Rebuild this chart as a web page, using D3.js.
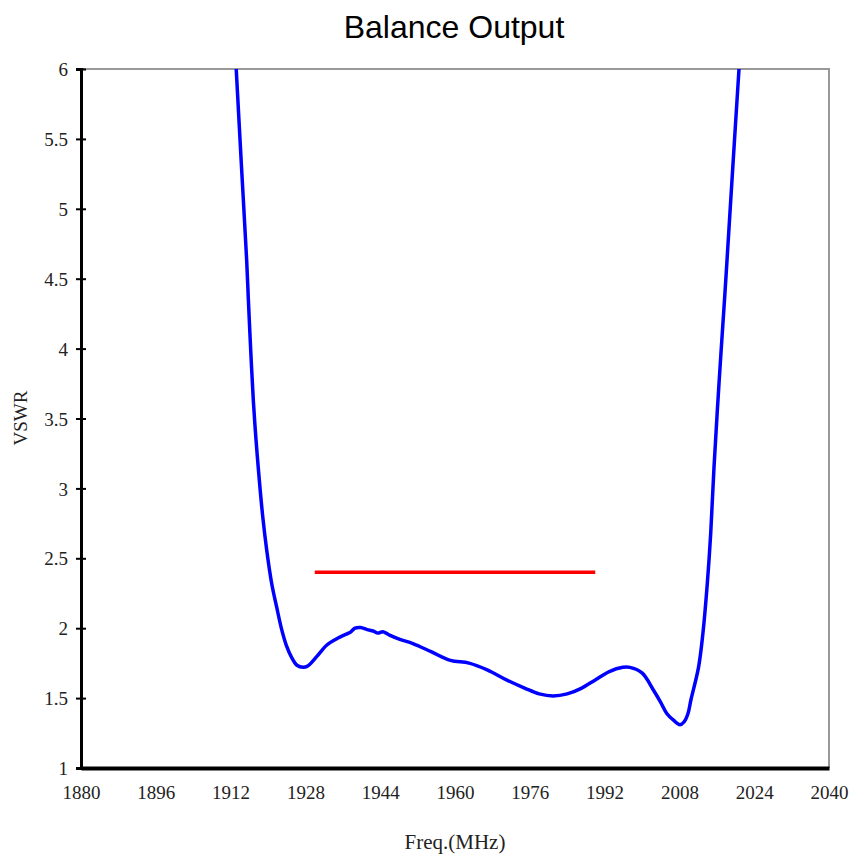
<!DOCTYPE html>
<html lang="en">
<head>
    <meta charset="UTF-8">
    <title>Balance Output</title>
    <script src="https://d3js.org/d3.v7.min.js"></script>
    <style>
        body { margin: 0; background: #fff; }
        .tick-label { font-family: "Liberation Serif", "DejaVu Serif", serif; font-size: 19px; fill: #222; }
    </style>
</head>
<body>
    <div id="chart"></div>
    <script>
        // measured curve (MHz, VSWR)
        var freq = [1913.2, 1914.3, 1915.44, 1915.8, 1916.3, 1916.86, 1917.43, 1918.14, 1918.87, 1919.72,
                    1920.79, 1921.86, 1922.93, 1924.0, 1925.07, 1926.2, 1927.5, 1928.5, 1930.5, 1932.6,
                    1935.0, 1936.9, 1937.6, 1938.6, 1939.8, 1941.2, 1942.5, 1943.5, 1944.6, 1946.0,
                    1948.2, 1951.0, 1955.0, 1959.0, 1963.0, 1967.0, 1971.0, 1975.0, 1978.0, 1981.0,
                    1984.0, 1987.0, 1990.0, 1993.0, 1995.9, 1997.4, 2000.0, 2002.4, 2004.0, 2005.3,
                    2006.8, 2008.1, 2009.0, 2009.84, 2010.48, 2012.09, 2013.05, 2013.97, 2014.7, 2015.4,
                    2016.47, 2017.65, 2018.18, 2019.5, 2020.75];
        var vswr = [6.0, 5.32, 4.63, 4.35, 3.99, 3.63, 3.35, 3.06, 2.80, 2.56,
                    2.32, 2.15, 1.99, 1.87, 1.79, 1.735, 1.72, 1.73, 1.8, 1.88,
                    1.93, 1.96, 1.97, 2.0, 2.005, 1.99, 1.98, 1.965, 1.975, 1.95,
                    1.92, 1.89, 1.83, 1.77, 1.75, 1.70, 1.63, 1.57, 1.53, 1.515,
                    1.53, 1.57, 1.63, 1.69, 1.72, 1.72, 1.68, 1.56, 1.47, 1.39,
                    1.34, 1.31, 1.33, 1.39, 1.49, 1.72, 1.97, 2.32, 2.68, 3.15,
                    3.75, 4.35, 4.63, 5.34, 6.0];
        // spec limit line
        var limitFreq = [1930, 1990];
        var limitVswr = [2.4, 2.4];

        var xTicks = [1880, 1896, 1912, 1928, 1944, 1960, 1976, 1992, 2008, 2024, 2040];
        var yTicks = [1, 1.5, 2, 2.5, 3, 3.5, 4, 4.5, 5, 5.5, 6];

        var W = 856, H = 854;
        var pLeft = 81, pRight = 829, pTop = 69, pBottom = 768;

        var svg = d3.select("#chart").append("svg")
            .attr("width", W).attr("height", H);

        var x = d3.scaleLinear().domain([1880, 2040]).range([pLeft, pRight]);
        var y = d3.scaleLinear().domain([1, 6]).range([pBottom, pTop]);

        svg.append("defs").append("clipPath").attr("id", "clip")
            .append("rect").attr("x", pLeft).attr("y", pTop)
            .attr("width", pRight - pLeft).attr("height", pBottom - pTop);

        // frame top/right grey
        svg.append("path")
            .attr("d", "M" + pLeft + "," + pTop + "H" + pRight + "V" + pBottom)
            .attr("fill", "none").attr("stroke", "#999").attr("stroke-width", 2);

        // title
        svg.append("text")
            .attr("x", 454).attr("y", 38)
            .attr("text-anchor", "middle")
            .attr("font-family", "Liberation Sans, Arial, sans-serif")
            .attr("font-size", 32)
            .text("Balance Output");

        var line = d3.line()
            .x(function(d) { return x(d[0]); })
            .y(function(d) { return y(d[1]); });

        // limit line
        var limPts = limitFreq.map(function(f, i) { return [f, limitVswr[i]]; });
        svg.append("path")
            .attr("d", line(limPts))
            .attr("fill", "none").attr("stroke", "#ff0000").attr("stroke-width", 3.4);

        // curve
        var pts = freq.map(function(f, i) { return [f, vswr[i]]; });
        svg.append("path")
            .attr("clip-path", "url(#clip)")
            .attr("d", line.curve(d3.curveCatmullRom.alpha(0.5))(pts))
            .attr("fill", "none").attr("stroke", "#0000ff").attr("stroke-width", 3.5)
            .attr("stroke-linejoin", "round");

        // left axis
        var yAxis = svg.append("g").attr("transform", "translate(" + pLeft + ",0)")
            .call(d3.axisLeft(y).tickValues(yTicks).tickSize(5).tickFormat(d3.format("")));
        yAxis.select(".domain").attr("stroke", "#000").attr("stroke-width", 3);
        yAxis.selectAll(".tick line").attr("x2", -5).attr("x1", 5).attr("stroke", "#000").attr("stroke-width", 2);
        yAxis.selectAll(".tick text").attr("class", "tick-label").attr("x", -13).attr("dy", "0.35em");

        // bottom axis
        var xAxis = svg.append("g").attr("transform", "translate(0," + pBottom + ")")
            .call(d3.axisBottom(x).tickValues(xTicks).tickSize(0).tickFormat(d3.format("d")));
        xAxis.select(".domain").attr("stroke", "#000").attr("stroke-width", 4);
        xAxis.selectAll(".tick text").attr("class", "tick-label").attr("y", 18).attr("dy", "0.71em");

        // axis titles
        svg.append("text")
            .attr("transform", "translate(27,418) rotate(-90)")
            .attr("text-anchor", "middle")
            .attr("class", "tick-label")
            .text("VSWR");

        svg.append("text")
            .attr("x", 455).attr("y", 849)
            .attr("text-anchor", "middle")
            .attr("class", "tick-label")
            .style("font-size", "21px")
            .text("Freq.(MHz)");
    </script>
</body>
</html>
